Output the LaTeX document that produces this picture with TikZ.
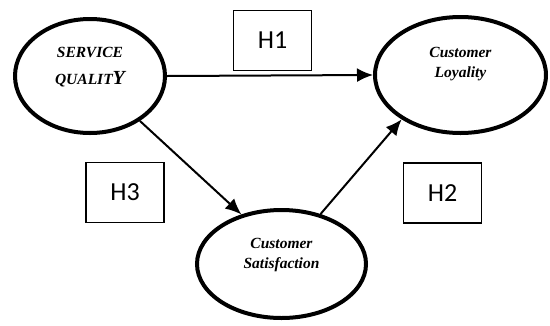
\documentclass[tikz,border=0pt]{standalone}
\usepackage{fontspec}
\setmainfont{Liberation Serif}
\newfontfamily\boxfont{Carlito}
\usetikzlibrary{arrows.meta,shapes.geometric}
\tikzset{
  construct/.style={draw, ellipse, line width=4pt, inner sep=0pt},
  constext/.style={align=center, font=\bfseries\itshape\fontsize{15.5}{20}\selectfont},
  hbox/.style={draw, line width=1.6pt, minimum width=78pt, minimum height=60pt,
    font=\boxfont\fontsize{26}{26}\selectfont},
  path/.style={->, line width=2pt}
}
\begin{document}
\begin{tikzpicture}[x=1pt, y=-1pt, >={Latex[length=16pt,width=14pt]}]
\useasboundingbox[fill=white] (0,0) rectangle (550,325);
% Cac bien (hinh elip)
\node[construct, minimum width=150pt, minimum height=114pt] (sq) at (90,76) {};
\node[construct, minimum width=171pt, minimum height=116pt] (cl) at (460.5,75) {};
\node[construct, minimum width=169pt, minimum height=108pt] (cs) at (281.5,264) {};
% Ten bien
\node[constext, font=\bfseries\itshape\fontsize{15.5}{27}\selectfont] (sqtext) at ([yshift=9pt]sq.center)
  {SERVICE\\QUALIT{\fontsize{20}{20}\selectfont Y}};
\node[constext] (cltext) at ([yshift=11pt]cl.center) {Customer\\Loyality};
\node[constext] (cstext) at ([yshift=9pt]cs.center) {Customer\\Satisfaction};
% Gia thuyet H1, H3, H2
\foreach \k/\x/\y in {1/272.5/40.5, 3/125/192.5, 2/442.5/193} {
  \node[hbox] (h\k) at (\x,\y) {H\k};
}
% Cac duong tac dong
\draw[path] (sq.east) -- (cl.west);
\draw[path] (sq.-42) -- (cs.129);
\draw[path] (cs.52) -- (cl.-143);
\end{tikzpicture}
\end{document}
